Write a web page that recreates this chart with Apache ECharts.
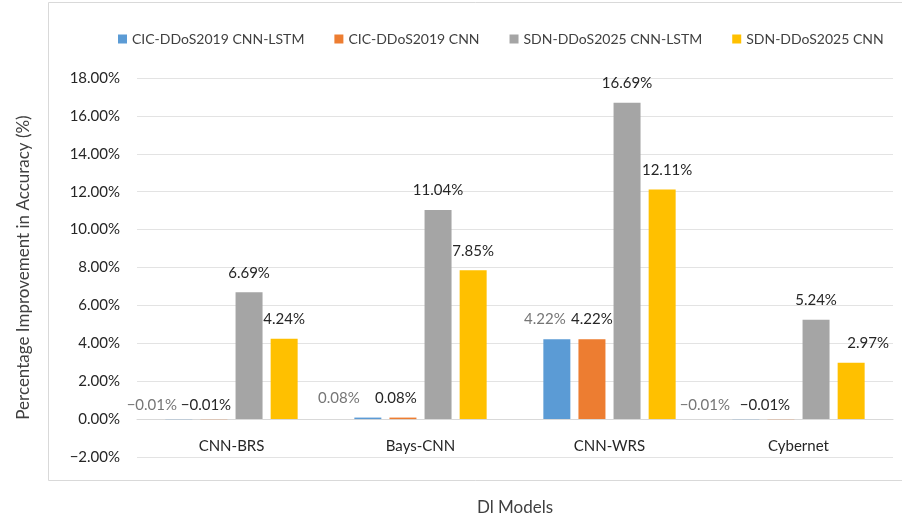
<!DOCTYPE html>
<html>
<head>
<meta charset="utf-8">
<script src="https://cdn.jsdelivr.net/npm/echarts@6/dist/echarts.min.js"></script>
<style>
  html, body { margin: 0; padding: 0; background: #fff; }
  #main { width: 902px; height: 520px; }
</style>
</head>
<body>
<div id="main"></div>
<script>
var models = ['CNN-BRS', 'Bays-CNN', 'CNN-WRS', 'Cybernet'];
var seriesNames = ['CIC-DDoS2019 CNN-LSTM', 'CIC-DDoS2019 CNN', 'SDN-DDoS2025 CNN-LSTM', 'SDN-DDoS2025 CNN'];
var cicLstm = [-0.01, 0.08, 4.22, -0.01];
var cicCnn = [-0.01, 0.08, 4.22, -0.01];
var sdnLstm = [6.69, 11.04, 16.69, 5.24];
var sdnCnn = [4.24, 7.85, 12.11, 2.97];
var yTicks = { min: -2, max: 18, step: 2 };

var colors = ['#5B9BD5', '#ED7D31', '#A5A5A5', '#FFC000'];
var labelColors = ['#767676', '#262626', '#262626', '#262626'];
// hand-nudged label positions, like the Excel original  [series][category] -> [dx, dy]
var nudge = [
  [[-27, 6], [-29, 0], [-12, 0], [-41, 6]],
  [[-8, 6], [-7, 0], [0, 0], [-16, 6]],
  [[0, 0], [0, 0], [0, 0], [0, 0]],
  [[0, 0], [0, 0], [5, 0], [17, 0]]
];

var FONT = 'Lato';

function pct(v) {
  var s = Math.abs(v).toFixed(2) + '%';
  return v < 0 ? '\u2212' + s : s;
}

var chart = echarts.init(document.getElementById('main'));

var allData = [cicLstm, cicCnn, sdnLstm, sdnCnn];
var series = allData.map(function (arr, si) {
  return {
    name: seriesNames[si],
    type: 'bar',
    barWidth: 27,
    barGap: '30%',
    itemStyle: { color: colors[si] },
    label: {
      show: true,
      position: 'top',
      distance: 12,
      fontFamily: FONT,
      fontSize: 15,
      color: labelColors[si],
      formatter: function (p) { return pct(p.value); }
    },
    data: arr.map(function (v, ci) {
      return { value: v, label: { offset: nudge[si][ci] } };
    })
  };
});

// the category axis sits on the 0% line, (yTicks.max - 0) / range of the plot height down
var plotTop = 78, plotBottom = 63, plotH = 520 - plotTop - plotBottom;
var zeroLift = Math.round(plotH * (0 - yTicks.min) / (yTicks.max - yTicks.min));

var option = {
  animation: false,
  color: colors,
  textStyle: { fontFamily: FONT },
  graphic: [{
    type: 'rect',
    shape: { x: 48.5, y: 2.5, width: 860, height: 478 },
    style: { fill: 'none', stroke: '#d9d9d9', lineWidth: 1 },
    z: -1
  }],
  legend: {
    top: 27,
    left: 113,
    width: 789,
    icon: 'rect',
    itemWidth: 9,
    itemHeight: 9,
    itemGap: 30,
    textStyle: { fontFamily: FONT, fontSize: 14, color: '#404040' },
    data: seriesNames
  },
  grid: { left: 137, right: 9, top: plotTop, bottom: plotBottom, outerBoundsMode: 'none', containLabel: false },
  xAxis: {
    type: 'category',
    data: models,
    offset: -zeroLift,
    name: 'Dl Models',
    nameLocation: 'middle',
    nameGap: 80,
    nameTextStyle: { fontFamily: FONT, fontSize: 17, color: '#404040' },
    axisTick: { show: false },
    axisLine: { onZero: false, lineStyle: { color: '#d9d9d9' } },
    axisLabel: { margin: 20, fontFamily: FONT, fontSize: 15, color: '#262626' }
  },
  yAxis: {
    type: 'value',
    min: yTicks.min,
    max: yTicks.max,
    interval: yTicks.step,
    name: 'Percentage Improvement in Accuracy (%)',
    nameLocation: 'middle',
    nameGap: 105,
    nameTextStyle: { fontFamily: FONT, fontSize: 17, color: '#404040' },
    axisLine: { show: false },
    axisTick: { show: false },
    splitLine: { lineStyle: { color: '#e3e3e3' } },
    axisLabel: {
      margin: 17,
      fontFamily: FONT,
      fontSize: 15,
      color: '#262626',
      formatter: function (v) { return pct(v); }
    }
  },
  series: series
};

chart.setOption(option);
</script>
</body>
</html>
